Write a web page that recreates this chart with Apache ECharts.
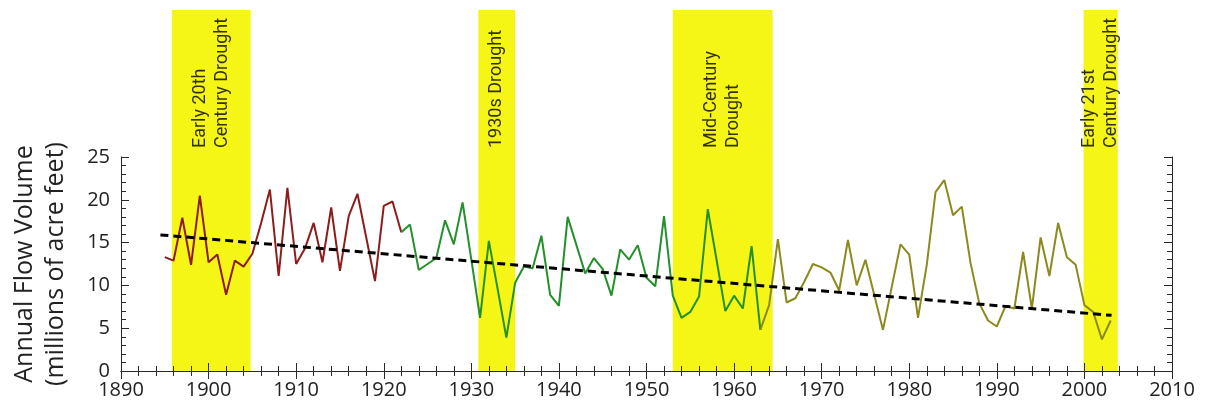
<!DOCTYPE html>
<html>
<head>
<meta charset="utf-8">
<script src="https://cdn.jsdelivr.net/npm/echarts@6/dist/echarts.min.js"></script>
<style>
html,body{margin:0;padding:0;background:#fff;}
#chart{width:1212px;height:409px;}
</style>
</head>
<body>
<div id="chart"></div>
<script>
// ---- Data ----
const redStartYear = 1895;
const redFlows = [13.3, 12.9, 17.9, 12.4, 20.5, 12.7, 13.6, 8.9, 12.9, 12.2,
                  13.7, 17.3, 21.2, 11.1, 21.4, 12.5, 14.3, 17.3, 12.7, 19.1,
                  11.7, 18.1, 20.7, 15.6, 10.5, 19.3, 19.8, 16.2];
const greenStartYear = 1922;
const greenFlows = [16.2, 17.1, 11.8, 12.5, 13.2, 17.6, 14.8, 19.7, 13.0, 6.2,
                    15.2, 9.6, 3.9, 10.3, 12.2, 12.0, 15.8, 8.9, 7.6, 18.0,
                    14.7, 11.4, 13.2, 11.9, 8.8, 14.2, 13.0, 14.7, 10.9, 9.9,
                    18.1, 8.8, 6.2, 6.9, 8.7, 18.9, 13.0, 7.0, 8.8, 7.3,
                    14.6, 4.8];
const oliveStartYear = 1963;
const oliveFlows = [4.8, 7.7, 15.4, 8.0, 8.5, 10.4, 12.5, 12.1, 11.5, 9.4,
                    15.3, 10.0, 13.0, 8.9, 4.8, 9.8, 14.8, 13.6, 6.2, 12.4,
                    20.9, 22.3, 18.2, 19.2, 12.6, 7.9, 5.9, 5.2, 7.6, 7.3,
                    13.9, 7.3, 15.6, 11.1, 17.3, 13.3, 12.4, 7.7, 6.9, 3.7,
                    5.9];
const trendYears = [1894.5, 2003.1];
const trendFlows = [15.9, 6.5];
const droughtStart = [1895.8, 1930.8, 1953.0, 1999.9];
const droughtEnd = [1904.8, 1935.0, 1964.4, 2003.8];
const droughtLabels = ['Early 20th\nCentury Drought', '1930s Drought', 'Mid-Century\nDrought', 'Early 21st\nCentury Drought'];
const xTickMin = 1890, xTickMax = 2010, xTickStep = 10;
const yTickMin = 0, yTickMax = 25, yTickStep = 5;
const yTitle = 'Annual Flow Volume\n(millions of acre feet)';

// ---- Build ----
function pairs(start, vals){ return vals.map((v,i)=>[start+i, v]); }

const chart = echarts.init(document.getElementById('chart'), null, {renderer:'canvas'});
const axisColor = '#2a2a2a';
const font = 'Open Sans';

const mainTop = 157, mainBottom = 38, H = 409;
const mainHeight = H - mainTop - mainBottom;
const unitPx = mainHeight / (yTickMax - yTickMin);
const bandGridHeight = H - mainBottom;
const bandYMax = bandGridHeight / unitPx;
const bandTopValue = (bandGridHeight - 10) / unitPx;
const labelBaseValue = (bandGridHeight - 148) / unitPx;

const option = {
  backgroundColor: '#ffffff',
  animation: false,
  grid: [
    {left: 121, right: 40, top: mainTop, bottom: mainBottom},
    {left: 121, right: 40, top: 0, bottom: mainBottom}
  ],
  xAxis: [
    {type: 'value', gridIndex: 0, min: xTickMin, max: xTickMax, interval: xTickStep, z: 5,
     axisLine: {lineStyle: {color: axisColor, width: 1}},
     axisTick: {inside: true, length: 8, lineStyle: {color: axisColor}},
     minorTick: {show: true, splitNumber: 5, length: 5, lineStyle: {color: axisColor}},
     splitLine: {show: false},
     axisLabel: {margin: 9, fontSize: 20, color: '#222', fontFamily: font, formatter: v => String(v)}},
    {type: 'value', gridIndex: 0, position: 'top', min: xTickMin, max: xTickMax, interval: xTickStep, z: 5,
     axisLine: {lineStyle: {color: axisColor, width: 1}},
     axisTick: {inside: true, length: 8, lineStyle: {color: axisColor}},
     minorTick: {show: true, splitNumber: 5, length: 5, lineStyle: {color: axisColor}},
     splitLine: {show: false},
     axisLabel: {show: false}},
    {type: 'value', gridIndex: 1, min: xTickMin, max: xTickMax, show: false}
  ],
  yAxis: [
    {type: 'value', gridIndex: 0, min: yTickMin, max: yTickMax, interval: yTickStep, z: 5,
     axisLine: {show: true, lineStyle: {color: axisColor, width: 1}},
     axisTick: {show: true, inside: true, length: 8, lineStyle: {color: axisColor}},
     minorTick: {show: true, splitNumber: 5, length: 5, lineStyle: {color: axisColor}},
     splitLine: {show: false},
     axisLabel: {margin: 11, fontSize: 20, color: '#222', fontFamily: font},
     name: yTitle, nameLocation: 'middle', nameRotate: 90, nameGap: 50,
     nameTextStyle: {fontSize: 25, lineHeight: 31, color: '#222', fontFamily: font}},
    {type: 'value', gridIndex: 0, position: 'right', min: yTickMin, max: yTickMax, interval: yTickStep, z: 5,
     axisLine: {show: true, lineStyle: {color: axisColor, width: 1}},
     axisTick: {show: true, inside: true, length: 8, lineStyle: {color: axisColor}},
     minorTick: {show: true, splitNumber: 5, length: 5, lineStyle: {color: axisColor}},
     splitLine: {show: false},
     axisLabel: {show: false}},
    {type: 'value', gridIndex: 1, min: 0, max: bandYMax, show: false}
  ],
  series: [
    {type: 'scatter', xAxisIndex: 2, yAxisIndex: 2, z: 1, silent: true,
     symbolSize: 1, itemStyle: {color: 'rgba(0,0,0,0)'},
     data: droughtLabels.map((t,i)=>({value: [(droughtStart[i]+droughtEnd[i])/2, labelBaseValue], name: t})),
     label: {show: true, position: 'inside', formatter: p => p.name, rotate: 90,
             align: 'left', verticalAlign: 'middle', fontSize: 18, lineHeight: 22,
             color: '#000', textBorderWidth: 0, fontFamily: 'Roboto'},
     labelLayout: {hideOverlap: false},
     markArea: {silent: true, itemStyle: {color: '#f5f516'},
       data: droughtStart.map((s,i)=>[{xAxis: s, yAxis: 0}, {xAxis: droughtEnd[i], yAxis: bandTopValue}])}
    },
    {type: 'line', xAxisIndex: 0, yAxisIndex: 0, z: 6, symbol: 'none',
     lineStyle: {color: '#8e1c1c', width: 2}, data: pairs(redStartYear, redFlows)},
    {type: 'line', xAxisIndex: 0, yAxisIndex: 0, z: 6, symbol: 'none',
     lineStyle: {color: '#23912a', width: 2}, data: pairs(greenStartYear, greenFlows)},
    {type: 'line', xAxisIndex: 0, yAxisIndex: 0, z: 6, symbol: 'none',
     lineStyle: {color: '#8c8a1e', width: 2}, data: pairs(oliveStartYear, oliveFlows)},
    {type: 'line', xAxisIndex: 0, yAxisIndex: 0, z: 7, symbol: 'none',
     lineStyle: {color: '#000', width: 3, type: [8, 5]},
     data: trendYears.map((y,i)=>[y, trendFlows[i]])}
  ]
};
chart.setOption(option);
</script>
</body>
</html>
